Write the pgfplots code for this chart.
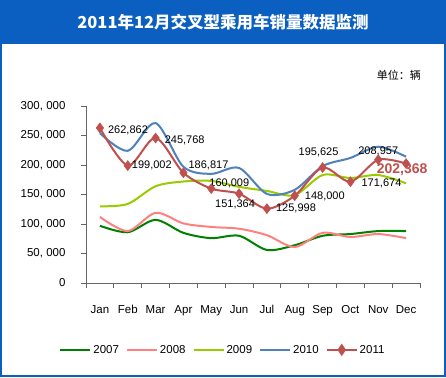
\documentclass[border=0pt]{standalone}
\usepackage{fontspec}
\setmainfont{Liberation Sans}
\newfontfamily\cjk{Noto Sans CJK SC}
\usepackage{pgfplots}
\pgfplotsset{compat=1.18}
\definecolor{frameblue}{HTML}{0A5FC0}
\definecolor{c2007}{HTML}{008000}
\definecolor{c2008}{HTML}{FF8080}
\definecolor{c2009}{HTML}{99CC00}
\definecolor{c2010}{HTML}{4F81BD}
\definecolor{c2011}{HTML}{C0504D}
\begin{document}
\begin{tikzpicture}[x=1pt,y=1pt]
\useasboundingbox (0,0) rectangle (446,377);
\fill[white] (0,0) rectangle (446,377);
\fill[frameblue] (0,333) rectangle (446,377);
\draw[frameblue, line width=2pt] (1,1) rectangle (445,376);
\node[white] at (223,355) {\cjk\fontsize{16.5}{18}\selectfont\bfseries 2011年12月交叉型乘用车销量数据监测};
\node[anchor=east, inner sep=0pt] at (421,302) {\cjk\fontsize{11}{13}\selectfont 单位：辆};
\begin{axis}[
  at={(86pt,94pt)}, anchor=south west,
  scale only axis, width=334pt, height=177pt,
  xmin=0.5, xmax=12.5, ymin=0, ymax=300000,
  scaled y ticks=false,
  axis x line*=bottom, axis y line*=left,
  axis line style={draw=gray!80!black, line width=0.8pt},
  xtick={1,...,12},
  xticklabels={Jan,Feb,Mar,Apr,May,Jun,Jul,Aug,Sep,Oct,Nov,Dec},
  major x tick style={draw=none},
  minor xtick={0.5,1.5,...,12.5},
  minor x tick style={draw=gray!80!black, line width=0.8pt},
  minor tick length=5pt,
  ytick={0,50000,...,300000},
  yticklabels={0,{50, 000},{100, 000},{150, 000},{200, 000},{250, 000},{300, 000}},
  y tick style={draw=gray!80!black, line width=0.8pt},
  major tick length=5pt,
  tick align=outside,
  tick label style={font=\fontsize{11.5}{13}\selectfont},
  xticklabel style={yshift=-14pt},
  yticklabel style={xshift=-12pt},
  legend columns=5,
  legend style={at={(0.41,-0.378)}, anchor=center, draw=none, fill=none,
    font=\fontsize{11.5}{13}\selectfont, /tikz/every even column/.append style={column sep=5pt}},
  legend image code/.code={\draw[#1] (0pt,0pt) -- (30pt,0pt);},
  every axis plot/.append style={line width=2pt, smooth, tension=0.5},
  clip=false,
]
\addplot[c2007, no markers] coordinates {(1,97000)(2,86000)(3,107000)(4,85000)(5,76000)(6,80000)(7,56000)(8,64000)(9,80000)(10,83000)(11,88000)(12,88000)};
\addlegendentry{2007}
\addplot[c2008, no markers] coordinates {(1,112000)(2,88000)(3,119000)(4,101000)(5,95000)(6,92000)(7,81000)(8,61000)(9,85000)(10,78000)(11,83000)(12,76000)};
\addlegendentry{2008}
\addplot[c2009, no markers] coordinates {(1,130000)(2,134000)(3,164000)(4,172000)(5,173000)(6,163000)(7,156000)(8,149000)(9,183000)(10,178000)(11,183000)(12,169000)};
\addlegendentry{2009}
\addplot[c2010, no markers] coordinates {(1,254000)(2,224000)(3,271000)(4,197000)(5,185000)(6,195000)(7,151000)(8,158000)(9,198000)(10,212000)(11,231000)(12,214000)};
\addlegendentry{2010}
\addplot[c2011, mark=diamond*, mark size=5pt, mark options={fill=c2011, draw=c2011, line width=0.5pt},
  legend image code/.code={\draw[c2011, line width=2pt] (0pt,0pt) -- (30pt,0pt); \fill[c2011] (15pt,0pt) +(0,4.5pt) -- +(3pt,0) -- +(0,-4.5pt) -- +(-3pt,0) -- cycle;}]
  coordinates {(1,262862)(2,199002)(3,245768)(4,186817)(5,160009)(6,151364)(7,125998)(8,148000)(9,195625)(10,171674)(11,208957)(12,202368)};
\addlegendentry{2011}
\begin{scope}[every node/.style={font=\fontsize{11}{13}\selectfont, inner sep=1pt}]
\node[anchor=west] at (axis cs:1,262862) [xshift=7pt,yshift=-2pt] {262,862};
\node[anchor=west] at (axis cs:2,199002) [xshift=3pt] {199,002};
\node[anchor=west] at (axis cs:3,245768) [xshift=8pt,yshift=-2pt] {245,768};
\node[anchor=west] at (axis cs:4,186817) [xshift=4pt,yshift=7pt] {186,817};
\node[anchor=west] at (axis cs:5,160009) [xshift=-3pt,yshift=5pt] {160,009};
\node[anchor=north] at (axis cs:6,151364) [xshift=-4pt,yshift=-5pt] {151,364};
\node[anchor=west] at (axis cs:7,125998) [xshift=8pt,yshift=0pt] {125,998};
\node[anchor=west] at (axis cs:8,148000) [xshift=9pt,yshift=-1pt] {148,000};
\node[anchor=south] at (axis cs:9,195625) [xshift=-4pt,yshift=9pt] {195,625};
\node[anchor=west] at (axis cs:10,171674) [xshift=10pt,yshift=-2pt] {171,674};
\node at (axis cs:11,208957) [xshift=0pt,yshift=8pt] {208,957};
\node[text=c2011, font=\fontsize{14}{16}\selectfont\bfseries] at (axis cs:12,202368) [xshift=-4pt,yshift=-6pt] {202,368};
\end{scope}
\end{axis}
\end{tikzpicture}
\end{document}
